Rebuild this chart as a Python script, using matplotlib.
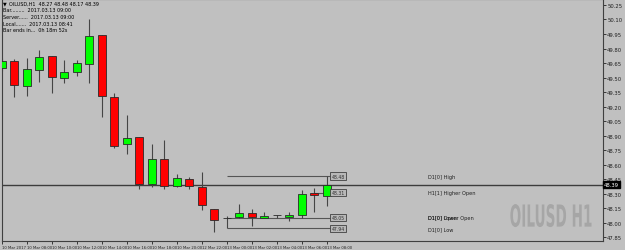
import numpy as np
import matplotlib
matplotlib.use("Agg")
import matplotlib.pyplot as plt
from matplotlib.textpath import TextPath
from matplotlib.patches import PathPatch
from matplotlib.font_manager import FontProperties
from matplotlib.transforms import Affine2D

# OILUSD H1 candles
opens  = [49.60, 49.67, 49.41, 49.58, 49.72, 49.50, 49.56, 49.64, 49.94, 49.30,
          48.81, 48.88, 48.40, 48.66, 48.38, 48.45, 48.37, 48.14, 48.045, 48.06,
          48.10, 48.047, 48.074, 48.06, 48.08, 48.31, 48.27]
highs  = [49.70, 49.69, 49.70, 49.78, 49.72, 49.68, 49.68, 50.10, 49.94, 49.34,
          49.11, 48.88, 48.81, 48.85, 48.50, 48.47, 48.52, 48.14, 48.07, 48.19,
          48.14, 48.11, 48.08, 48.11, 48.34, 48.36, 48.48]
lows   = [49.57, 49.30, 49.31, 49.45, 49.34, 49.44, 49.52, 49.44, 49.09, 48.77,
          48.71, 48.35, 48.37, 48.35, 48.37, 48.35, 48.13, 47.90, 47.94, 48.05,
          47.96, 48.045, 48.05, 48.02, 48.05, 48.11, 48.17]
closes = [49.67, 49.42, 49.59, 49.71, 49.51, 49.56, 49.65, 49.93, 49.31, 48.79,
          48.87, 48.40, 48.66, 48.38, 48.46, 48.38, 48.18, 48.03, 48.052, 48.10,
          48.06, 48.065, 48.075, 48.075, 48.30, 48.285, 48.39]

time_labels = ["10 Mar 2017", "10 Mar 08:00", "10 Mar 10:00", "10 Mar 12:00",
               "10 Mar 14:00", "10 Mar 16:00", "10 Mar 18:00", "10 Mar 20:00",
               "12 Mar 22:00", "13 Mar 00:00", "13 Mar 02:00", "13 Mar 04:00",
               "13 Mar 06:00", "13 Mar 08:00"]

price_ticks = [47.85, 48.00, 48.15, 48.30, 48.45, 48.60, 48.75, 48.90, 49.05,
               49.20, 49.35, 49.50, 49.65, 49.80, 49.95, 50.10, 50.25]

d1_high = 48.48
d1_open = 48.05
d1_low = 47.94
h1_prev_open = 48.31
bid = 48.39

info_lines = ["OILUSD,H1  48.27 48.48 48.17 48.39",
              "Bar.........  2017.03.13 09:00",
              "Server......  2017.03.13 09:00",
              "Local.......  2017.03.13 08:41",
              "Bar ends in...  0h 18m 52s"]

bg = '#c0c0c0'
fig = plt.figure(figsize=(6.25, 2.51), dpi=100, facecolor=bg)
ax = fig.add_axes([2/625, 9/251, 601/625, 242/251])
ax.set_facecolor(bg)

x = np.arange(len(opens))
# wicks
ax.vlines(x, lows, highs, color='#454545', lw=0.8, zorder=2)
# bodies
for i in range(len(opens)):
    o, c = opens[i], closes[i]
    col = '#00ff00' if c >= o else '#ff0000'
    h = max(abs(c - o), 0.004)
    ax.bar(i, h, bottom=min(o, c), width=0.64, color=col,
           edgecolor='#2a2a2a', lw=0.6, zorder=3)

# bid line
ax.axhline(bid, color='#3c3c3c', lw=1.0, zorder=1)

# D1 / H1 level lines with price boxes
box_x = 26.9
levels = [(d1_high, 18), (h1_prev_open, 25), (d1_open, 18), (d1_low, 18)]
for p, start in levels:
    ax.hlines(p, start, box_x - 0.45, color='#555555', lw=0.8, zorder=1)
    ax.text(box_x, p, "%.2f" % p, fontsize=3.3, ha='center', va='center',
            color='#303030', zorder=4,
            bbox=dict(boxstyle='square,pad=0.25', fc='#b8b8b8', ec='#404040', lw=0.6))

name_x = 34.1
ax.text(name_x, d1_high, "D1[0] High", fontsize=3.6, va='center', color='#202020')
ax.text(name_x, h1_prev_open, "H1[1] Higher Open", fontsize=3.6, va='center', color='#202020')
# two labels drawn on the same level, as in the original
ax.text(name_x, d1_open, "D1[0] Lower Open", fontsize=3.6, va='center', color='#202020')
ax.text(name_x, d1_open, "D1[0] Open", fontsize=3.6, va='center', color='#202020')
ax.text(name_x, d1_low, "D1[0] Low", fontsize=3.6, va='center', color='#202020')

# watermark, condensed by scaling a text path
tp = TextPath((0, 0), "OILUSD H1", size=1,
              prop=FontProperties(family='DejaVu Sans', weight='bold'))
ext = tp.get_extents()
x0, x1 = 40.7, 47.2
y0, y1 = 47.953, 48.191
tr = (Affine2D().translate(-ext.x0, -ext.y0)
      .scale((x1 - x0) / ext.width, (y1 - y0) / ext.height)
      .translate(x0, y0))
ax.add_patch(PathPatch(tr.transform_path(tp), fc='#a6a6a6', ec='none', zorder=0))

# axes
ax.set_xlim(0.04, 48.12)
ax.set_ylim(47.809, 50.312)
ax.yaxis.tick_right()
ax.set_yticks(price_ticks)
ax.set_yticklabels(["%.2f" % t for t in price_ticks])
ax.set_xticks(np.arange(0, 2 * len(time_labels), 2))
ax.set_xticklabels(time_labels, ha='left')
ax.tick_params(axis='y', labelsize=3.8, length=2, width=0.6, pad=1, colors='#202020')
ax.tick_params(axis='x', labelsize=2.7, length=2, width=0.6, pad=1, colors='#202020')
for s in ax.spines.values():
    s.set_color('#404040')
    s.set_linewidth(0.8)

# current price box on the right axis
ax.text(1.002, bid, "%.2f" % bid, transform=ax.get_yaxis_transform(),
        fontsize=3.8, color='white', va='center', ha='left',
        bbox=dict(boxstyle='square,pad=0.2', fc='black', ec='black'))

# info text top-left
fig.text(3/625, 1 - 4/251, "\u25bc", fontsize=3.5, va='center', color='black')
for k, line in enumerate(info_lines):
    xx = 9/625 if k == 0 else 3/625
    fig.text(xx, 1 - (4 + 6.7 * k)/251, line, fontsize=3.5, va='center', color='black')

fig.savefig("out.png", dpi=100, facecolor=bg)
